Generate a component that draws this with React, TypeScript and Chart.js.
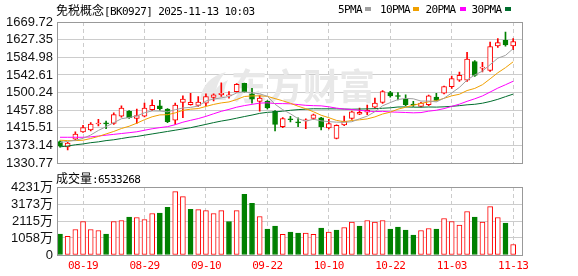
import React, { useEffect, useRef } from "react";
import { Chart, registerables } from "chart.js";

Chart.register(...registerables);

// ---------------- data ----------------
const titleName = "免税概念";
const titleCode = "[BK0927]";
const titleTime = "2025-11-13 10:03";
const volumeTitle = "成交量";
const volumeLatest = "6533268";

const dates = [
  "08-14", "08-15", "08-18", "08-19", "08-20", "08-21", "08-22", "08-25", "08-26", "08-27",
  "08-28", "08-29", "09-01", "09-02", "09-03", "09-04", "09-05", "09-08", "09-09", "09-10",
  "09-11", "09-12", "09-15", "09-16", "09-17", "09-18", "09-19", "09-22", "09-23", "09-24",
  "09-25", "09-26", "09-29", "09-30", "10-09", "10-10", "10-13", "10-14", "10-15", "10-16",
  "10-17", "10-20", "10-21", "10-22", "10-23", "10-24", "10-27", "10-28", "10-29", "10-30",
  "10-31", "11-03", "11-04", "11-05", "11-06", "11-07", "11-10", "11-11", "11-12", "11-13",
];

const opens = [
  1382.6, 1369.8, 1388.7, 1406.1, 1410.8, 1424.9, 1426.5, 1426.3, 1443.8, 1455.5,
  1438.1, 1443.8, 1459.3, 1468.7, 1460.9, 1434.3, 1476.7, 1471.1, 1469.7, 1475.0,
  1488.5, 1495.5, 1492.2, 1502.6, 1522.2, 1497.0, 1479.1, 1479.1, 1455.5, 1418.6,
  1436.5, 1429.0, 1432.5, 1438.1, 1439.8, 1415.5, 1390.3, 1422.6, 1438.1, 1448.5,
  1453.0, 1465.0, 1476.7, 1500.2, 1491.5, 1484.5, 1472.0, 1467.3, 1471.0, 1489.2,
  1498.6, 1514.4, 1529.9, 1529.9, 1574.6, 1559.0, 1553.5, 1612.3, 1625.7, 1612.3,
];
const highs = [
  1384.4, 1380.9, 1406.1, 1421.6, 1428.0, 1435.8, 1432.0, 1451.5, 1468.7, 1457.0,
  1460.9, 1475.0, 1482.8, 1481.4, 1462.0, 1475.0, 1492.3, 1498.6, 1490.8, 1497.0,
  1497.0, 1523.8, 1502.6, 1522.0, 1523.0, 1510.4, 1493.2, 1481.0, 1457.0, 1440.0,
  1443.0, 1439.8, 1437.4, 1448.5, 1441.0, 1435.8, 1423.0, 1443.8, 1456.0, 1463.3,
  1470.0, 1487.0, 1505.0, 1503.0, 1500.2, 1494.6, 1479.0, 1477.0, 1494.0, 1498.6,
  1516.0, 1540.0, 1549.7, 1596.8, 1577.0, 1573.2, 1621.7, 1629.7, 1645.3, 1629.7,
];
const lows = [
  1369.1, 1362.8, 1386.8, 1404.4, 1408.5, 1420.2, 1413.9, 1424.0, 1441.4, 1438.0,
  1426.3, 1442.0, 1457.0, 1457.9, 1428.0, 1424.0, 1439.8, 1470.0, 1467.0, 1468.7,
  1480.0, 1490.8, 1486.8, 1501.0, 1501.0, 1475.0, 1455.5, 1461.0, 1408.5, 1416.0,
  1430.0, 1418.6, 1413.9, 1436.0, 1410.8, 1413.0, 1389.0, 1421.0, 1435.8, 1447.5,
  1447.0, 1463.0, 1474.0, 1489.0, 1482.8, 1469.0, 1467.3, 1466.0, 1469.0, 1480.0,
  1497.0, 1510.4, 1527.0, 1526.9, 1539.0, 1549.7, 1551.0, 1608.5, 1612.0, 1603.0,
];
const closes = [
  1371.5, 1379.3, 1400.4, 1416.2, 1424.9, 1426.4, 1425.2, 1447.5, 1463.3, 1439.8,
  1445.2, 1463.3, 1469.7, 1461.6, 1430.3, 1470.4, 1484.5, 1476.7, 1477.4, 1490.8,
  1494.6, 1498.6, 1493.2, 1519.8, 1502.6, 1484.5, 1486.8, 1463.3, 1424.0, 1438.1,
  1435.0, 1427.5, 1434.0, 1446.8, 1418.6, 1425.6, 1421.6, 1432.0, 1453.9, 1452.8,
  1457.5, 1475.0, 1502.6, 1492.3, 1490.8, 1471.0, 1470.5, 1475.0, 1492.3, 1481.4,
  1514.4, 1533.9, 1541.7, 1581.0, 1541.7, 1560.5, 1610.9, 1620.3, 1614.7, 1622.7,
];
// close of the session before the first bar (volume colour of the first bar)
const prevClose = 1384.8;

// volume in 万
const volumes = [
  1300, 1156, 1589, 2085, 1589, 1527, 1300, 2085, 2147, 2353,
  2332, 2208, 2580, 2601, 2972, 3942, 3633, 2848, 2828, 2766,
  2580, 2766, 2085, 2766, 3777, 3220, 2394, 1610, 1796, 1280,
  1424, 1362, 1362, 1280, 1672, 1424, 1548, 1713, 2043, 1796,
  2147, 2043, 2147, 1610, 1734, 1548, 1238, 1527, 1651, 1610,
  2270, 2085, 1858, 2704, 2353, 2043, 3013, 2332, 1981, 653,
];

const ma5 = [
  1380.4, 1383.2, 1385.8, 1390.4, 1398.5, 1409.4, 1418.6, 1428.0, 1437.5, 1440.4,
  1444.2, 1451.8, 1456.3, 1455.9, 1454.0, 1459.1, 1463.3, 1464.7, 1467.9, 1480.0,
  1484.8, 1487.6, 1490.9, 1499.4, 1501.8, 1499.7, 1497.4, 1491.4, 1472.2, 1459.3,
  1449.4, 1437.6, 1431.7, 1436.3, 1432.4, 1430.5, 1429.3, 1428.9, 1430.3, 1437.4,
  1443.8, 1454.5, 1468.6, 1476.3, 1483.6, 1486.3, 1485.4, 1479.9, 1479.9, 1478.0,
  1486.7, 1499.4, 1512.7, 1530.5, 1542.5, 1551.8, 1567.2, 1582.9, 1589.6, 1605.8,
];
const ma10 = [
  1386.0, 1385.0, 1385.0, 1386.0, 1390.0, 1395.0, 1401.0, 1407.0, 1414.0, 1419.5,
  1426.8, 1435.2, 1442.2, 1446.7, 1447.2, 1451.6, 1457.6, 1460.5, 1461.9, 1467.0,
  1471.9, 1475.5, 1477.8, 1483.6, 1490.9, 1492.3, 1492.5, 1491.2, 1485.8, 1480.6,
  1474.6, 1467.5, 1461.6, 1454.3, 1445.9, 1440.0, 1433.5, 1430.3, 1433.3, 1434.9,
  1437.1, 1441.9, 1448.8, 1453.3, 1460.5, 1465.1, 1470.0, 1474.3, 1478.1, 1480.8,
  1486.5, 1492.4, 1496.3, 1505.2, 1510.3, 1519.2, 1533.3, 1547.8, 1560.1, 1574.2,
];
const ma20 = [
  1393.0, 1393.0, 1393.0, 1393.0, 1394.0, 1396.0, 1398.0, 1400.0, 1402.0, 1404.0,
  1406.2, 1409.9, 1413.4, 1416.2, 1418.5, 1423.2, 1429.2, 1433.7, 1437.9, 1443.2,
  1449.4, 1455.3, 1460.0, 1465.2, 1469.0, 1472.0, 1475.0, 1475.8, 1473.9, 1473.8,
  1473.3, 1471.5, 1469.7, 1468.9, 1468.4, 1466.1, 1463.0, 1460.7, 1459.6, 1457.7,
  1455.9, 1454.7, 1455.2, 1453.8, 1453.2, 1452.5, 1451.7, 1452.3, 1455.7, 1457.9,
  1461.8, 1467.2, 1472.5, 1479.3, 1485.4, 1492.2, 1501.6, 1511.0, 1519.1, 1527.5,
];
const ma30 = [
  1370.0, 1372.0, 1375.0, 1377.0, 1380.0, 1382.0, 1385.0, 1387.0, 1390.0, 1393.0,
  1395.0, 1398.0, 1401.0, 1404.0, 1407.0, 1410.0, 1413.0, 1416.0, 1420.0, 1424.0,
  1428.2, 1431.9, 1435.0, 1438.8, 1442.7, 1446.3, 1450.4, 1452.9, 1453.9, 1455.7,
  1457.8, 1459.4, 1460.5, 1461.5, 1461.3, 1461.3, 1461.2, 1460.7, 1460.3, 1460.8,
  1461.2, 1461.6, 1462.7, 1463.7, 1465.7, 1465.8, 1465.3, 1465.2, 1465.7, 1465.4,
  1466.1, 1467.3, 1468.9, 1470.9, 1472.2, 1474.8, 1478.9, 1484.1, 1490.5, 1496.6,
];

const maLabels = ["5PMA", "10PMA", "20PMA", "30PMA"];
const priceTicks = [
  "1669.72", "1627.35", "1584.98", "1542.61", "1500.24",
  "1457.88", "1415.51", "1373.14", "1330.77",
];
const volumeTickValues = [0, 1058, 2115, 3173, 4231];
const volumeTickLabels = ["0", "1058万", "2115万", "3173万", "4231万"];
const xTickLabels = ["08-19", "08-29", "09-10", "09-22", "10-10", "10-22", "11-03", "11-13"];
const watermarkText = "东方财富";

// ---------------- styles ----------------
const RED = "#ff0000";
const GREEN = "#008000";
const MA_COLORS = ["#a0a0a0", "#f0a000", "#ff00ff", "#006e2e"];
const GRID = "#cccccc";
const FRAME = "#999999";
const WATERMARK = "#e8e8e8";
const X_MIN = -0.39;
const X_MAX = 60.15;
const AXIS_FONT = '"Liberation Sans", Arial, "Noto Sans CJK SC", sans-serif';
const MONO = '"DejaVu Sans Mono", monospace';
const CJK = '"Noto Sans CJK SC", sans-serif';

const idx = dates.map((_, i) => i);
const tickIdx = xTickLabels.map((l) => dates.indexOf(l));
const up = closes.map((c, i) => c >= opens[i]);
const volUp = closes.map((c, i) => c > (i === 0 ? prevClose : closes[i - 1]));

const framePlugin = {
  id: "frame",
  afterDraw(chart: any) {
    const { ctx, chartArea: a } = chart;
    ctx.save();
    ctx.strokeStyle = FRAME;
    ctx.lineWidth = 1;
    const l = Math.round(a.left) + 0.5;
    const t = Math.round(a.top) + 0.5;
    const r = Math.round(a.right) + 0.5;
    const b = Math.round(a.bottom) + 0.5;
    ctx.strokeRect(l, t, r - l, b - t);
    ctx.restore();
  },
};

const watermarkPlugin = {
  id: "watermark",
  beforeDatasetsDraw(chart: any) {
    const { ctx } = chart;
    ctx.save();
    ctx.fillStyle = WATERMARK;
    // logo: a stylised swoosh
    ctx.beginPath();
    ctx.moveTo(200, 100);
    ctx.quadraticCurveTo(203, 78, 226, 72);
    ctx.quadraticCurveTo(214, 84, 216, 100);
    ctx.closePath();
    ctx.fill();
    ctx.beginPath();
    ctx.moveTo(212, 100);
    ctx.quadraticCurveTo(214, 86, 228, 80);
    ctx.quadraticCurveTo(222, 90, 226, 100);
    ctx.closePath();
    ctx.fill();
    ctx.font = 'bold 36px "Noto Sans CJK SC", sans-serif';
    ctx.textBaseline = "middle";
    ctx.textAlign = "left";
    ctx.fillText(watermarkText, 231, 86);
    ctx.restore();
  },
};

const xLabelPlugin = {
  id: "xlabels",
  afterDraw(chart: any) {
    const { ctx, chartArea, scales } = chart;
    ctx.save();
    ctx.font = "11px " + MONO;
    (ctx as any).letterSpacing = "-0.6px";
    ctx.fillStyle = RED;
    ctx.textAlign = "center";
    ctx.textBaseline = "middle";
    xTickLabels.forEach((lab) => {
      const x = scales.x.getPixelForValue(dates.indexOf(lab));
      ctx.fillText(lab, x, chartArea.bottom + 11);
    });
    ctx.restore();
  },
};

function xScale(hideHeight: number) {
  return {
    type: "linear" as const,
    min: X_MIN,
    max: X_MAX,
    offset: false,
    afterBuildTicks: (axis: any) => {
      axis.ticks = tickIdx.map((v) => ({ value: v }));
    },
    afterFit: (axis: any) => {
      axis.height = hideHeight;
    },
    ticks: { display: false, autoSkip: false },
    grid: { color: GRID, drawTicks: false, offset: false, lineWidth: 1 },
    border: { display: false, dash: [4, 3] },
  };
}

function yScale(values: number[], labels: string[]) {
  return {
    type: "linear" as const,
    min: Math.min(...values),
    max: Math.max(...values),
    afterBuildTicks: (axis: any) => {
      axis.ticks = values
        .slice()
        .sort((a, b) => a - b)
        .map((v) => ({ value: v }));
    },
    afterFit: (axis: any) => {
      axis.width = 57;
    },
    ticks: {
      autoSkip: false,
      padding: 4,
      color: "#111",
      font: { family: AXIS_FONT, size: 13 },
      callback: (v: any) => {
        const k = values.indexOf(Number(v));
        return k >= 0 ? labels[k] : "";
      },
    },
    grid: { color: GRID, drawTicks: false, lineWidth: 1 },
    border: { display: false },
  };
}

export default function App() {
  const mainRef = useRef<HTMLCanvasElement>(null);
  const volRef = useRef<HTMLCanvasElement>(null);

  useEffect(() => {
    const priceValues = priceTicks.map(Number);
    const main = new Chart(mainRef.current as HTMLCanvasElement, {
      type: "bar",
      data: {
        datasets: [
          ...[ma5, ma10, ma20, ma30].map((arr, k) => ({
            type: "line" as const,
            label: maLabels[k],
            data: idx.map((i) => ({ x: i, y: arr[i] })),
            borderColor: MA_COLORS[k],
            borderWidth: 1,
            pointRadius: 0,
            tension: 0,
            fill: false,
            order: 0,
          })),
          {
            type: "bar" as const,
            label: "body",
            data: idx.map((i) => ({ x: i, y: [opens[i], closes[i]] })) as any,
            backgroundColor: idx.map((i) => (up[i] ? "#ffffff" : GREEN)),
            borderColor: idx.map((i) => (up[i] ? RED : GREEN)),
            borderWidth: 1,
            borderSkipped: false,
            barThickness: 5,
            minBarLength: 1,
            grouped: false,
            order: 1,
          },
          {
            type: "bar" as const,
            label: "wick",
            data: idx.map((i) => ({ x: i, y: [lows[i], highs[i]] })) as any,
            backgroundColor: idx.map((i) => (up[i] ? RED : GREEN)),
            borderWidth: 0,
            barThickness: 1,
            grouped: false,
            order: 2,
          },
        ],
      },
      options: {
        animation: false,
        responsive: false,
        devicePixelRatio: 1,
        events: [],
        layout: { padding: { top: 22, right: 56, bottom: 10, left: 0 } },
        plugins: { legend: { display: false }, tooltip: { enabled: false } },
        scales: {
          x: xScale(0) as any,
          y: yScale(priceValues, priceTicks) as any,
        },
      },
      plugins: [watermarkPlugin, framePlugin],
    });

    const vol = new Chart(volRef.current as HTMLCanvasElement, {
      type: "bar",
      data: {
        datasets: [
          {
            label: "volume",
            data: idx.map((i) => ({ x: i, y: volumes[i] })) as any,
            backgroundColor: idx.map((i) => (volUp[i] ? "#ffffff" : GREEN)),
            borderColor: idx.map((i) => (volUp[i] ? RED : GREEN)),
            borderWidth: 1,
            borderSkipped: false,
            barThickness: 5,
            grouped: false,
          },
        ],
      },
      options: {
        animation: false,
        responsive: false,
        devicePixelRatio: 1,
        events: [],
        layout: { padding: { top: 12, right: 56, bottom: 0, left: 0 } },
        plugins: { legend: { display: false }, tooltip: { enabled: false } },
        scales: {
          x: xScale(21) as any,
          y: yScale(volumeTickValues, volumeTickLabels) as any,
        },
      },
      plugins: [framePlugin, xLabelPlugin],
    });

    return () => {
      main.destroy();
      vol.destroy();
    };
  }, []);

  const cjkSpan: React.CSSProperties = { fontFamily: CJK, fontSize: 12, letterSpacing: 0 };
  const monoSpan: React.CSSProperties = { fontFamily: MONO, fontSize: 11, letterSpacing: "-0.6px" };
  const legendLeft = [338, 380, 425.5, 471.5];
  const markerLeft = [365, 413, 460, 505];

  return (
    <div
      style={{
        position: "absolute",
        left: 0,
        top: 0,
        width: 578,
        height: 276,
        background: "#ffffff",
        overflow: "hidden",
        color: "#000",
      }}
    >
      <canvas ref={mainRef} width={578} height={175} style={{ position: "absolute", left: 0, top: 0 }} />
      <canvas ref={volRef} width={578} height={101} style={{ position: "absolute", left: 0, top: 175 }} />
      <div style={{ position: "absolute", left: 56, top: 3, lineHeight: "13px", whiteSpace: "nowrap" }}>
        <span style={cjkSpan}>{titleName}</span>
        <span style={monoSpan}>{titleCode + " " + titleTime}</span>
      </div>
      {maLabels.map((lab, k) => (
        <React.Fragment key={lab}>
          <div
            style={{
              position: "absolute",
              left: legendLeft[k],
              top: 3,
              lineHeight: "13px",
              whiteSpace: "nowrap",
              ...monoSpan,
            }}
          >
            {lab}
          </div>
          <div
            style={{
              position: "absolute",
              left: markerLeft[k],
              top: 7,
              width: 6,
              height: 4,
              background: MA_COLORS[k],
            }}
          />
        </React.Fragment>
      ))}
      <div style={{ position: "absolute", left: 56, top: 171, lineHeight: "13px", whiteSpace: "nowrap" }}>
        <span style={cjkSpan}>{volumeTitle}</span>
        <span style={monoSpan}>{":" + volumeLatest}</span>
      </div>
    </div>
  );
}
